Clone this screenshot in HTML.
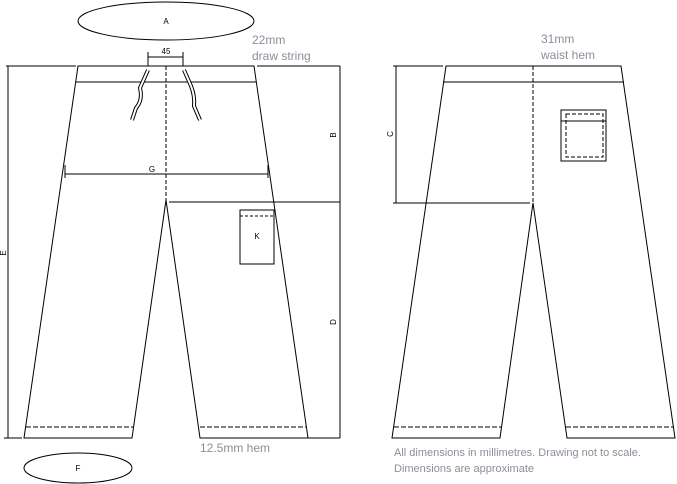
<!DOCTYPE html>
<html><head><style>
body{margin:0;background:#fff;}
svg{display:block;}
.t{font-family:"Liberation Sans",sans-serif;fill:#8a8f99;font-size:12px;}
.l{font-family:"Liberation Sans",sans-serif;fill:#000;font-size:8px;}
</style></head><body>
<svg width="677" height="484" viewBox="0 0 677 484" xmlns="http://www.w3.org/2000/svg">
<g fill="none" stroke="#000" stroke-width="1">
<!-- Left pants -->
<ellipse cx="166" cy="21" rx="88" ry="19"/>
<ellipse cx="78" cy="468" rx="54" ry="15"/>
<path d="M78 66 H254 L308 438 H200 L166 200 L132 438 H24 Z"/>
<line x1="76" y1="82" x2="256" y2="82"/>
<line x1="166" y1="66" x2="166" y2="200" stroke-dasharray="4,2"/>
<line x1="26" y1="427" x2="133" y2="427" stroke-dasharray="5,2"/>
<line x1="200" y1="427" x2="306" y2="427" stroke-dasharray="5,2"/>
<!-- drawstring -->
<path d="M148 70 L140 88 Q143 100 136 108 L132 120" stroke-width="4"/>
<path d="M148 70 L140 88 Q143 100 136 108 L132 120" stroke="#fff" stroke-width="2"/>
<path d="M184 70 L191 86 Q195 96 194 106 L200 120" stroke-width="4"/>
<path d="M184 70 L191 86 Q195 96 194 106 L200 120" stroke="#fff" stroke-width="2"/>
<!-- 45 -->
<line x1="148" y1="52" x2="148" y2="66"/><line x1="183" y1="52" x2="183" y2="66"/>
<line x1="148" y1="57" x2="183" y2="57"/>
<!-- G -->
<line x1="65" y1="174" x2="268" y2="174"/>
<line x1="65" y1="165" x2="65" y2="178"/><line x1="268" y1="165" x2="268" y2="178"/>
<!-- pocket K -->
<rect x="240" y="210" width="34" height="54"/>
<line x1="240" y1="216" x2="274" y2="216" stroke-dasharray="3,2"/>
<!-- E -->
<line x1="8" y1="66" x2="8" y2="438"/>
<line x1="6" y1="66" x2="76" y2="66"/>
<line x1="4" y1="438" x2="22" y2="438"/>
<!-- B/D -->
<line x1="340" y1="66" x2="340" y2="438"/>
<line x1="257" y1="66" x2="340" y2="66"/>
<line x1="169" y1="202" x2="340" y2="202"/>
<line x1="308" y1="438" x2="340" y2="438"/>
<!-- Right pants -->
<path d="M446 66 H621 L675 438 H567 L533 203 L500 438 H392 Z"/>
<line x1="443" y1="82" x2="624" y2="82"/>
<line x1="533" y1="66" x2="533" y2="203" stroke-dasharray="4,2"/>
<line x1="394" y1="427" x2="501" y2="427" stroke-dasharray="5,2"/>
<line x1="566" y1="427" x2="674" y2="427" stroke-dasharray="5,2"/>
<rect x="561" y="110" width="45" height="51"/>
<rect x="566" y="114" width="37" height="43" stroke-dasharray="4,2"/>
<line x1="561" y1="121" x2="606" y2="121"/>
<line x1="396" y1="66" x2="396" y2="203"/>
<line x1="393" y1="66" x2="443" y2="66"/>
<line x1="393" y1="203" x2="530" y2="203"/>
</g>
<text class="l" x="166" y="24" text-anchor="middle">A</text>
<text class="l" x="78" y="471" text-anchor="middle">F</text>
<text class="l" x="166" y="54" text-anchor="middle">45</text>
<text class="l" x="152" y="172" text-anchor="middle">G</text>
<text class="l" x="257" y="239" text-anchor="middle">K</text>
<text class="l" transform="translate(336,135) rotate(-90)" text-anchor="middle">B</text>
<text class="l" transform="translate(336,322) rotate(-90)" text-anchor="middle">D</text>
<text class="l" transform="translate(6,253) rotate(-90)" text-anchor="middle">E</text>
<text class="l" transform="translate(393,134) rotate(-90)" text-anchor="middle">C</text>
<text class="t" x="252" y="44">22mm</text>
<text class="t" x="252" y="60">draw string</text>
<text class="t" x="541" y="43">31mm</text>
<text class="t" x="541" y="59">waist hem</text>
<text class="t" x="200" y="452">12.5mm hem</text>
<text class="t" x="394" y="456" style="font-size:11px">All dimensions in millimetres. Drawing not to scale.</text>
<text class="t" x="394" y="472" style="font-size:11px">Dimensions are approximate</text>
</svg>
</body></html>
